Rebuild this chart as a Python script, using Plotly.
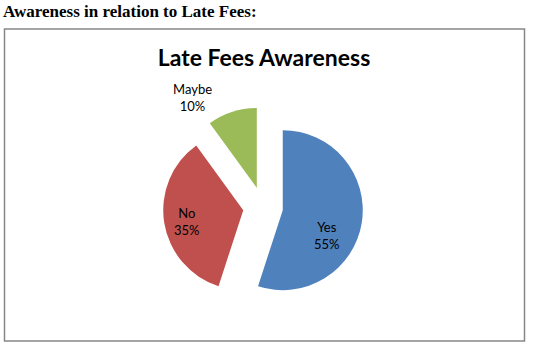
import plotly.graph_objects as go

labels = ["Yes", "No", "Maybe"]
values = [55, 35, 10]
colors = ["#4F81BD", "#C0504D", "#9BBB59"]

W, H = 534, 351

# label centres (pixels from top-left) as placed in the original chart
label_px = [(327, 235), (187, 221), (192, 97)]

total = sum(values)
fig = go.Figure()
fig.add_trace(go.Pie(
    labels=labels,
    values=values,
    sort=False,
    direction="clockwise",
    rotation=0,
    pull=[0.25, 0.25, 0.25],
    marker=dict(colors=colors, line=dict(width=0)),
    textinfo="none",
    showlegend=False,
    hoverinfo="skip",
    domain=dict(x=[163 / W, 363 / W], y=[1 - 307 / H, 1 - 107 / H]),
))

annotations = [dict(
    text="<b>Awareness in relation to Late Fees:</b>",
    xref="paper", yref="paper", x=0, y=1,
    xanchor="left", yanchor="top", showarrow=False,
    font=dict(family="Liberation Serif", size=17, color="#000000"),
    xshift=1,
)]
for lab, val, (px, py) in zip(labels, values, label_px):
    annotations.append(dict(
        text=f"{lab}<br>{round(100 * val / total)}%",
        xref="paper", yref="paper", x=px / W, y=1 - py / H,
        xanchor="center", yanchor="middle", showarrow=False,
        font=dict(family="Lato", size=13, color="#000000"),
    ))

fig.update_layout(
    width=W, height=H,
    margin=dict(l=0, r=0, t=0, b=0),
    paper_bgcolor="white",
    plot_bgcolor="white",
    title=dict(
        text="<b>Late Fees Awareness</b>",
        font=dict(family="Lato", size=23, color="#000000"),
        x=264 / W, xanchor="center",
        y=1 - 58 / H, yanchor="middle",
        xref="paper", yref="paper",
    ),
    shapes=[dict(
        type="rect", xref="paper", yref="paper",
        x0=4.5 / W, x1=524.5 / W, y0=1 - 341 / H, y1=1 - 29 / H,
        line=dict(color="#868686", width=1.5),
        layer="below",
    )],
    annotations=annotations,
)

fig.write_html("out.html")
